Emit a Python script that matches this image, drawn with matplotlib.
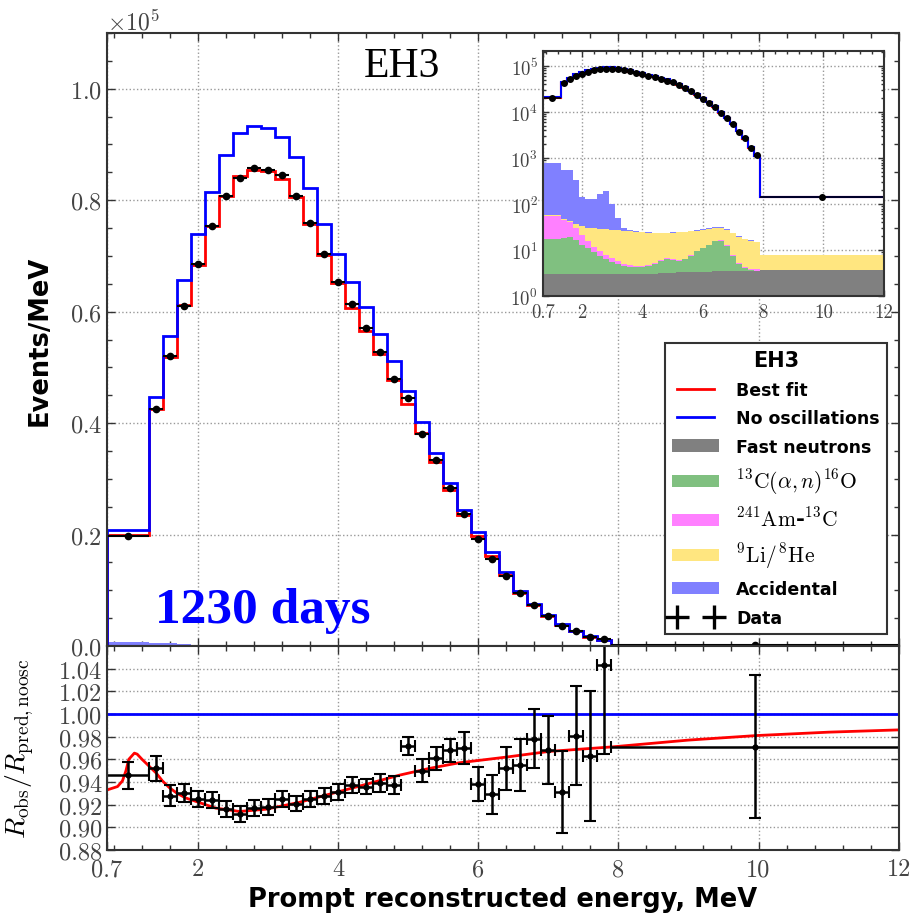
import numpy as np
import matplotlib.pyplot as plt
from matplotlib.ticker import MultipleLocator, ScalarFormatter, LogLocator, NullFormatter
from matplotlib.lines import Line2D
from matplotlib.patches import Patch

plt.rcParams['font.family'] = 'serif'
plt.rcParams['font.serif'] = ['cmr10', 'DejaVu Serif']
plt.rcParams['mathtext.fontset'] = 'cm'
plt.rcParams['axes.formatter.use_mathtext'] = True
plt.rcParams['axes.unicode_minus'] = False

# prompt energy bins (MeV)
edges = [0.7, 1.3, 1.5, 1.7, 1.9, 2.1, 2.3, 2.5, 2.7, 2.9, 3.1, 3.3, 3.5, 3.7,
         3.9, 4.1, 4.3, 4.5, 4.7, 4.9, 5.1, 5.3, 5.5, 5.7, 5.9, 6.1, 6.3, 6.5,
         6.7, 6.9, 7.1, 7.3, 7.5, 7.7, 7.9, 12.0]

# events / MeV
data_obs = [19800, 42600, 52000, 61100, 68500, 75300, 80800, 84000, 85700, 85400,
            84500, 80800, 76000, 70300, 65400, 61300, 57000, 52700, 48000, 44500,
            38100, 33300, 28300, 23700, 19250, 15650, 12600, 9450, 7380, 5400,
            3680, 2700, 1660, 1180, 140]
best_fit = [19900, 42500, 51900, 61200, 68300, 75400, 80800, 84300, 85500, 85200,
            83800, 80600, 75700, 70200, 65200, 60700, 56500, 52400, 47800, 43400,
            38300, 33100, 27950, 23430, 19740, 16150, 12720, 9480, 7280, 5380,
            3810, 2650, 1660, 1100, 141]
no_osc = [20900, 44600, 55650, 65650, 74000, 81500, 88100, 92100, 93400, 93000,
          91400, 87700, 82200, 75800, 70260, 65350, 60860, 56060, 51100, 45770,
          40200, 34680, 29230, 24500, 20540, 16830, 13240, 9880, 7550, 5570,
          3950, 2750, 1720, 1130, 145]

# backgrounds (events / MeV)
bkg_fastn = [3.0] * 13 + [3.1] * 4 + [3.2] * 3 + [3.3] * 3 + [3.4] * 3 + [3.5] * 5 + [3.6] * 3 + [3.7]
bkg_can = [14.3, 15.5, 16.0, 13.5, 10.0, 8.0, 6.0, 4.4, 3.4, 2.6, 2.0, 1.6, 1.4, 1.2,
           1.2, 1.4, 1.9, 2.6, 3.2, 3.0, 2.6, 3.0, 4.2, 6.1, 7.6, 9.6, 12.0, 12.5,
           9.0, 4.0, 1.5, 0.4, 0.1, 0.0, 0.0]
bkg_amc = [37.7, 26.5, 21.0, 13.5, 8.0, 4.5, 2.5, 2.1, 1.4, 1.0, 0.8, 0.5, 0.4, 0.3,
           0.3, 0.3, 0.3, 0.3, 0.2, 0.2, 0.2, 0.2, 0.2, 0.2, 0.2, 0.2, 0.2, 0.2,
           0.2, 0.2, 0.2, 0.2, 0.2, 0.2, 0.05]
bkg_lihe = [2.0, 3.0, 3.0, 7.0, 12.0, 15.5, 18.5, 19.5, 20.7, 21.4, 21.2, 20.9, 20.7,
            20.4, 19.9, 19.2, 18.2, 17.4, 17.2, 17.6, 18.2, 18.3, 17.8, 16.8, 16.8,
            16.3, 15.3, 14.8, 15.3, 15.3, 14.4, 13.3, 12.1, 11.2, 4.05]
bkg_acc = [723, 512, 497, 293, 107, 99, 100, 136, 166, 72, 23, 4, 1.5, 0.5, 0.3,
           0.2, 0.2, 0.2, 0.2, 0.2, 0.2, 0.2, 0.2, 0.2, 0.2, 0.2, 0.2, 0.2, 0.2,
           0.2, 0.2, 0.2, 0.2, 0.2, 0.05]

# ratio to no-oscillation prediction
ratio_obs = [0.946, 0.952, 0.928, 0.930, 0.925, 0.924, 0.916, 0.912, 0.917, 0.918,
             0.925, 0.921, 0.925, 0.928, 0.931, 0.937, 0.936, 0.939, 0.937, 0.972,
             0.950, 0.961, 0.968, 0.970, 0.938, 0.929, 0.952, 0.955, 0.978, 0.968,
             0.931, 0.981, 0.963, 1.043, 0.971]
ratio_err = [0.012, 0.011, 0.009, 0.008, 0.007, 0.007, 0.007, 0.007, 0.007, 0.007,
             0.007, 0.007, 0.007, 0.007, 0.007, 0.007, 0.007, 0.008, 0.008, 0.008,
             0.010, 0.010, 0.010, 0.014, 0.015, 0.017, 0.019, 0.023, 0.026, 0.030,
             0.036, 0.044, 0.057, 0.078, 0.063]
fit_e = [0.70, 0.85, 0.92, 0.97, 1.01, 1.09, 1.13, 1.20, 1.30, 1.40, 1.49, 1.59, 1.70,
         1.82, 2.01, 2.25, 2.59, 2.97, 3.44, 3.92, 4.40, 4.87, 5.30, 5.73, 6.40,
         7.01, 7.91, 9.00, 9.97, 11.0, 12.0]
fit_r = [0.933, 0.936, 0.941, 0.950, 0.960, 0.9655, 0.9646, 0.960, 0.954, 0.948,
         0.941, 0.935, 0.930, 0.926, 0.922, 0.917, 0.914, 0.916, 0.922, 0.930, 0.938,
         0.946, 0.952, 0.957, 0.962, 0.967, 0.971, 0.977, 0.981, 0.984, 0.986]

bkg_colors = ['#808080', '#80c080', '#ff80ff', '#ffe680', '#8080ff']
xticks = [0.7, 2, 4, 6, 8, 10, 12]
xticklabels = ['0.7', '2', '4', '6', '8', '10', '12']

edges = np.array(edges)
centers = (edges[:-1] + edges[1:]) / 2
halfw = (edges[1:] - edges[:-1]) / 2
bkgs = [bkg_fastn, bkg_can, bkg_amc, bkg_lihe, bkg_acc]

tick_col = '#444444'
spine_col = '#333333'


def style(ax, size):
    ax.tick_params(which='both', direction='in', top=True, right=True,
                   labelsize=size, labelcolor=tick_col, color=spine_col)
    ax.tick_params(which='major', length=6, width=1)
    ax.tick_params(which='minor', length=3.5, width=1)
    for s in ax.spines.values():
        s.set_color(spine_col)
        s.set_linewidth(1.5)
    ax.grid(True, which='major', ls=':', color='#999999', lw=1)
    ax.set_axisbelow(True)


fig = plt.figure(figsize=(9.11, 9.2), dpi=100)
ax = fig.add_axes([0.1175, 0.2967, 0.869, 0.6663])
axr = fig.add_axes([0.1175, 0.075, 0.869, 0.2217], sharex=ax)

# ---- main spectrum ----
ax.hist([centers] * 5, bins=edges, weights=bkgs, stacked=True,
        histtype='stepfilled', color=bkg_colors, lw=0)
ax.stairs(best_fit, edges, color='red', lw=2)
ax.stairs(no_osc, edges, color='blue', lw=2)
ax.errorbar(centers, data_obs, xerr=halfw, fmt='o', color='k', ms=4.5,
            elinewidth=1.5, capsize=0)
ax.set_xlim(0.7, 12)
ax.set_ylim(0, 110000)
ax.yaxis.set_major_locator(MultipleLocator(20000))
ax.yaxis.set_minor_locator(MultipleLocator(5000))
fmt = ScalarFormatter(useMathText=True)
fmt.set_powerlimits((0, 0))
ax.yaxis.set_major_formatter(fmt)
ax.xaxis.set_minor_locator(MultipleLocator(0.4))
style(ax, 17.5)
ax.yaxis.get_offset_text().set_fontsize(17)
ax.yaxis.get_offset_text().set_color(tick_col)
plt.setp(ax.get_xticklabels(), visible=False)
ax.set_ylabel('Events/MeV', fontfamily='DejaVu Sans', fontweight='bold', fontsize=18.5)
ax.yaxis.set_label_coords(-0.069, 0.5)

ax.text(0.372, 0.930, 'EH3', transform=ax.transAxes, ha='center', va='baseline',
        fontfamily='Liberation Serif', fontsize=30)
ax.text(0.0606, 0.039, '1230 days', transform=ax.transAxes, ha='left', va='baseline',
        fontfamily='Liberation Serif', fontweight='bold', fontsize=37, color='blue')

handles = [Line2D([], [], color='red', lw=2),
           Line2D([], [], color='blue', lw=2)]
handles += [Patch(facecolor=c, edgecolor='none') for c in bkg_colors]
handles += [Line2D([], [], color='k', marker='+', ls='none', ms=17, mew=2.4)]
labels = ['Best fit', 'No oscillations', 'Fast neutrons',
          r'$^{13}\mathrm{C}(\alpha,n)^{16}\mathrm{O}$',
          r'$^{241}\mathrm{Am}$-$^{13}\mathrm{C}$',
          r'$^{9}\mathrm{Li}/^{8}\mathrm{He}$',
          'Accidental', 'Data']
leg = ax.legend(handles, labels, title='EH3', loc='lower right',
                bbox_to_anchor=(0.985, 0.02), borderaxespad=0, numpoints=2,
                fancybox=False, edgecolor=spine_col, framealpha=1,
                prop={'family': 'DejaVu Sans', 'weight': 'bold', 'size': 12.5},
                title_fontproperties={'family': 'DejaVu Sans', 'weight': 'bold', 'size': 15},
                handlelength=2.7, handletextpad=1.0, labelspacing=0.6)
leg.get_frame().set_linewidth(1.5)
for t in leg.get_texts():
    if '$' in t.get_text():
        t.set_fontsize(15.5)

# ---- inset (log scale) ----
ins = fig.add_axes([0.596, 0.677, 0.374, 0.2663])
ins.hist([centers] * 5, bins=edges, weights=bkgs, stacked=True, log=True,
         histtype='stepfilled', color=bkg_colors, lw=0)
ins.stairs(best_fit, edges, baseline=None, color='red', lw=1.5)
ins.stairs(no_osc, edges, baseline=None, color='blue', lw=1.5)
ins.errorbar(centers, data_obs, xerr=halfw, fmt='o', color='k', ms=4,
             elinewidth=1.2, capsize=0)
ins.set_xlim(0.7, 12)
ins.set_ylim(1, 2.1e5)
ins.set_xticks(xticks, labels=xticklabels)
ins.xaxis.set_minor_locator(MultipleLocator(0.4))
ins.yaxis.set_major_locator(LogLocator(base=10, numticks=10))
ins.yaxis.set_minor_locator(LogLocator(base=10, subs=np.arange(2, 10), numticks=20))
ins.yaxis.set_minor_formatter(NullFormatter())
style(ins, 13.5)
ins.tick_params(which='major', length=4)
ins.tick_params(which='minor', length=2.5)
ins.tick_params(axis='x', pad=5)

# ---- ratio panel ----
axr.axhline(1.0, color='blue', lw=2)
axr.plot(fit_e, fit_r, color='red', lw=2)
axr.errorbar(centers, ratio_obs, xerr=halfw, yerr=ratio_err, fmt='o', color='k',
             ms=3.5, elinewidth=1.8, capsize=4, capthick=1.5)
axr.set_ylim(0.88, 1.06)
axr.set_yticks([0.88, 0.90, 0.92, 0.94, 0.96, 0.98, 1.00, 1.02, 1.04],
               labels=['0.88', '0.90', '0.92', '0.94', '0.96', '0.98', '1.00', '1.02', '1.04'])
axr.set_xticks(xticks, labels=xticklabels)
axr.xaxis.set_minor_locator(MultipleLocator(0.4))
axr.set_xlim(0.7, 12)
style(axr, 17.5)
axr.tick_params(axis='x', pad=6)
axr.set_ylabel(r'$R_{\rm obs}/R_{\rm pred,noosc}$', fontsize=20)
axr.yaxis.set_label_coords(-0.09, 0.5)
axr.set_xlabel('Prompt reconstructed energy, MeV', fontfamily='DejaVu Sans',
               fontweight='bold', fontsize=18.5, labelpad=4)

fig.savefig('out.png', dpi=100)
